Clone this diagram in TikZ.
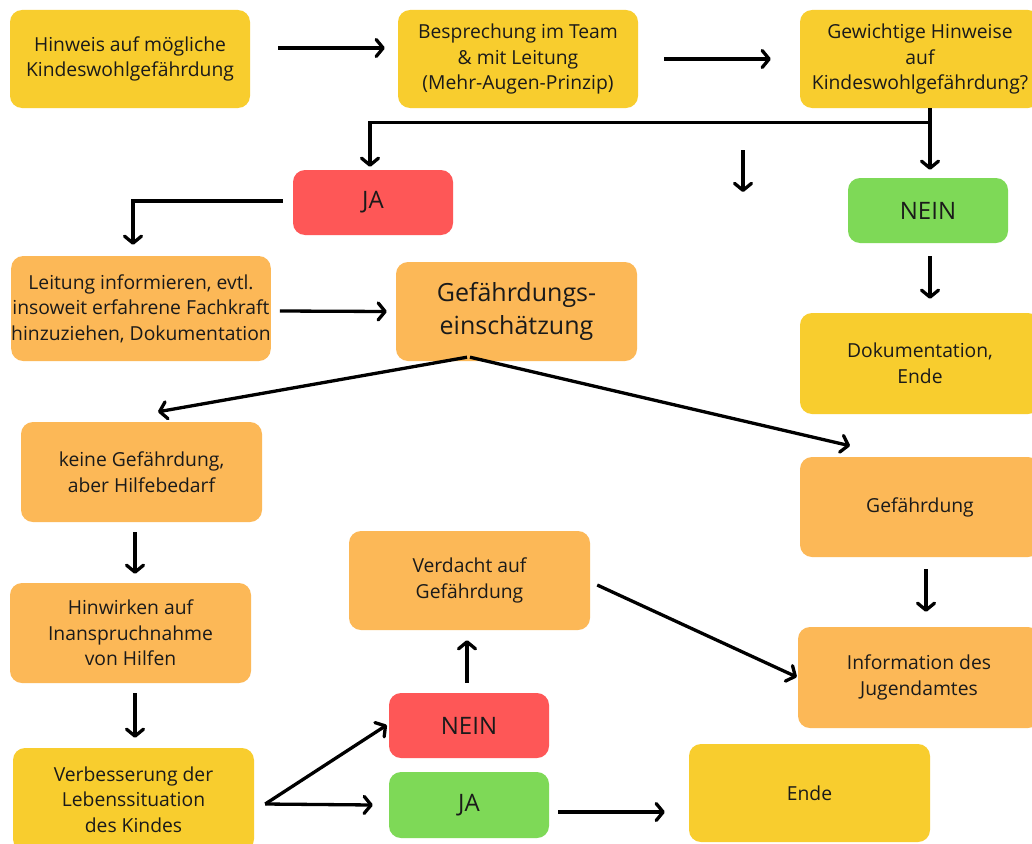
\documentclass[tikz,border=0pt]{standalone}
\usepackage{fontspec}
\setmainfont{Open Sans}
\usetikzlibrary{arrows.meta}
\definecolor{cyellow}{HTML}{F8CD2E}
\definecolor{corange}{HTML}{FCB857}
\definecolor{cred}{HTML}{FE5757}
\definecolor{cgreen}{HTML}{7ED957}
\definecolor{ctxt}{HTML}{1A1A1A}
\newcommand\bodyfont{\fontsize{19.3}{25.5}\selectfont}
\newcommand\bigfont{\fontsize{25}{33}\selectfont}
\newcommand\ynfont{\fontsize{24}{28}\selectfont}
\tikzset{
  box/.style={rounded corners=12pt, inner sep=0pt, align=center, text=ctxt, font=\bodyfont},
  ybox/.style={box, fill=cyellow},
  obox/.style={box, fill=corange},
  rbox/.style={box, fill=cred, font=\ynfont},
  gbox/.style={box, fill=cgreen, font=\ynfont},
  arr/.style={line width=3.3pt, draw=black, -{Straight Barb[length=7pt,width=17pt,round]}},
  seg/.style={line width=3.3pt, draw=black}
}
\begin{document}
\begin{tikzpicture}[x=1pt,y=-1pt]
\useasboundingbox (0,0) rectangle (1032,843);
\fill[white] (0,0) rectangle (1032,843);

\node[ybox, minimum width=240pt, minimum height=98pt] (hinweis) at (130,59) {Hinweis auf mögliche\\Kindeswohlgefährdung};
\node[ybox, minimum width=240pt, minimum height=98pt] (bespr) at (518,59) {Besprechung im Team\\\& mit Leitung\\(Mehr-Augen-Prinzip)};
\node[ybox, minimum width=240pt, minimum height=98pt] (gewicht) at (920,59) {Gewichtige Hinweise\\auf\\Kindeswohlgefährdung?};
\node[rbox, minimum width=160pt, minimum height=65pt] (ja1) at (373,202.5) {JA};
\node[gbox, minimum width=160pt, minimum height=65pt] (nein1) at (928,210.5) {NEIN};
\node[obox, minimum width=256pt, minimum height=105pt] (leitung) at (141,308.5) {Leitung informieren, evtl.\\insoweit erfahrene Fachkraft\\hinzuziehen, Dokumentation};
\node[obox, font=\bigfont, minimum width=241pt, minimum height=99pt] (gefein) at (516.5,311.5) {Gefährdungs-\\einschätzung};
\node[ybox, minimum width=240pt, minimum height=101pt] (dok) at (920,363.5) {Dokumentation,\\Ende};
\node[obox, minimum width=241pt, minimum height=100pt] (keine) at (141.5,472) {keine Gefährdung,\\aber Hilfebedarf};
\node[obox, minimum width=240pt, minimum height=100pt] (gef) at (920,507) {Gefährdung};
\node[obox, minimum width=241pt, minimum height=99pt] (verdacht) at (469.5,580.5) {Verdacht auf\\Gefährdung};
\node[obox, minimum width=241pt, minimum height=100pt] (hinwirken) at (130.5,633) {Hinwirken auf\\Inanspruchnahme\\von Hilfen};
\node[obox, minimum width=242pt, minimum height=101pt] (info) at (919,677.5) {Information des\\Jugendamtes};
\node[rbox, minimum width=160pt, minimum height=65pt] (nein2) at (469,725.5) {NEIN};
\node[gbox, minimum width=160pt, minimum height=66pt] (ja2) at (469,805) {JA};
\node[ybox, minimum width=241pt, minimum height=103pt] (verbess) at (133.5,799.5) {Verbesserung der\\Lebenssituation\\des Kindes};
\node[ybox, minimum width=241pt, minimum height=98pt] (ende) at (809.5,793) {Ende};

% top row
\draw[arr] ([xshift=28pt,yshift=11pt]hinweis.east) -- ([xshift=-13pt,yshift=11pt]bespr.west);
\draw[arr] ([xshift=26pt]bespr.east) -- ([xshift=-29pt]gewicht.west);
% decision split
\draw[arr] ([xshift=10pt]gewicht.south) -- ([xshift=2pt,yshift=8pt]nein1.north);
\draw[arr] ([xshift=10pt,yshift=-14pt]gewicht.south) -| ([xshift=-3pt,yshift=3pt]ja1.north);
\coordinate (s1) at (743,150);
\coordinate (s2) at (743,192);
\draw[arr] (s1) -- (s2);
% JA branch
\draw[arr] ([xshift=-10pt,yshift=1.5pt]ja1.west) -| ([xshift=-8pt,yshift=11pt]leitung.north);
\draw[arr] ([xshift=9pt,yshift=-2.5pt]leitung.east) -- ([xshift=-9pt]gefein.west);
% NEIN branch
\draw[arr] ([xshift=2pt,yshift=-13pt]nein1.south) -- ([xshift=10pt,yshift=14pt]dok.north);
% assessment
\draw[arr] ([xshift=-49.5pt,yshift=4pt]gefein.south) -- ([xshift=16.5pt,yshift=10pt]keine.north);
\draw[arr] ([xshift=-46.5pt,yshift=4pt]gefein.south) -- ([xshift=-70pt,yshift=11pt]gef.north);
\draw[arr] ([xshift=-6.5pt,yshift=-10pt]keine.south) -- ([xshift=4.5pt,yshift=9pt]hinwirken.north);
\draw[arr] ([xshift=4.5pt,yshift=-10pt]hinwirken.south) -- ([xshift=1.5pt,yshift=10pt]verbess.north);
\draw[arr] ([xshift=6pt,yshift=-12pt]gef.south) -- ([xshift=7pt,yshift=15pt]info.north);
% bottom
\draw[arr] ([xshift=11pt,yshift=-4.5pt]verbess.east) -- ([xshift=-2pt,yshift=0.5pt]nein2.west);
\draw[arr] ([xshift=11pt,yshift=-4.5pt]verbess.east) -- ([xshift=-16pt]ja2.west);
\draw[arr] ([xshift=-2pt,yshift=10pt]nein2.north) -- ([xshift=-2.5pt,yshift=-10pt]verdacht.south);
\draw[arr] ([xshift=7pt,yshift=-4.5pt]verdacht.east) -- ([xshift=-1pt,yshift=0.5pt]info.west);
\draw[arr] ([xshift=9pt,yshift=-7pt]ja2.east) -- ([xshift=-24pt,yshift=-19pt]ende.west);
\end{tikzpicture}
\end{document}
